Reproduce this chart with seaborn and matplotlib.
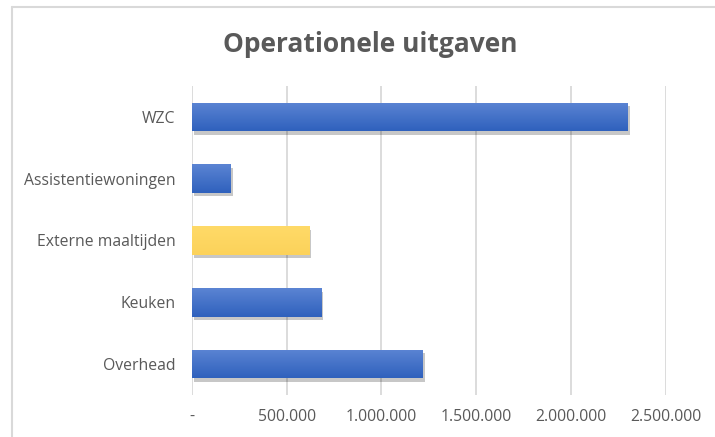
import matplotlib
matplotlib.use("Agg")
import matplotlib.pyplot as plt
import matplotlib.patheffects as pe
from matplotlib.lines import Line2D
from matplotlib.colors import LinearSegmentedColormap
import numpy as np
import seaborn as sns
import pandas as pd

categories = ["WZC", "Assistentiewoningen", "Externe maaltijden", "Keuken", "Overhead"]
values = [2300000, 205000, 618000, 682000, 1218000]
bar_colors = ["#3D6CC8", "#3D6CC8", "#FFD560", "#3D6CC8", "#3D6CC8"]
xticks = [0, 500000, 1000000, 1500000, 2000000, 2500000]
xtick_labels = ["-", "500.000", "1.000.000", "1.500.000", "2.000.000", "2.500.000"]

sns.set_style("white")
plt.rcParams["font.family"] = ["Open Sans", "DejaVu Sans"]

W, H = 715, 437
fig = plt.figure(figsize=(W / 100, H / 100), dpi=100)
ax = fig.add_axes([192 / W, 1 - 395 / H, (665.7 - 192) / W, (395 - 86) / H])

df = pd.DataFrame({"cat": categories, "val": values})
sns.barplot(data=df, x="val", y="cat", hue="cat", palette=bar_colors, saturation=1,
            legend=False, width=0.46, ax=ax, zorder=3, linewidth=0)

blue_grad = LinearSegmentedColormap.from_list("b", ["#5B84D3", "#2F61BD"])
yellow_grad = LinearSegmentedColormap.from_list("y", ["#FFDA68", "#FCD25A"])
grad = np.linspace(0, 1, 64).reshape(-1, 1)
for p, c in zip(ax.patches, bar_colors):
    p.set_path_effects([pe.SimplePatchShadow(offset=(1.5, -2.5), shadow_rgbFace="#000000", alpha=0.22),
                        pe.Normal()])
    x0, y0 = p.get_x(), p.get_y()
    w, h = p.get_width(), p.get_height()
    cmap = yellow_grad if c == "#FFD560" else blue_grad
    im = ax.imshow(grad, cmap=cmap, aspect="auto", extent=(x0, x0 + w, y0 + h, y0),
                   origin="upper", zorder=3.5, interpolation="bilinear")
    im.set_clip_path(p)

ax.set_xlim(0, 2500000)
ax.set_ylim(4.5, -0.5)
ax.set_xticks(xticks)
ax.set_xticklabels(xtick_labels)
ax.grid(axis="x", color="#D9D9D9", linewidth=1.3, zorder=0)
ax.grid(axis="y", visible=False)
for s in ax.spines.values():
    s.set_visible(False)
ax.set_xlabel("")
ax.set_ylabel("")
ax.tick_params(axis="both", length=0, colors="#595959", labelsize=11.3)
ax.tick_params(axis="x", pad=10)
ax.tick_params(axis="y", pad=12)

fig.text(370 / W, 1 - 45 / H, "Operationele uitgaven", ha="center", va="center",
         fontsize=19, fontweight="bold", color="#595959")

# chart frame (top and left edge visible)
fig.add_artist(Line2D([12 / W, 1], [1 - 7 / H, 1 - 7 / H], color="#D9D9D9", linewidth=1.5,
                      transform=fig.transFigure))
fig.add_artist(Line2D([12 / W, 12 / W], [0, 1 - 7 / H], color="#D9D9D9", linewidth=1.5,
                      transform=fig.transFigure))

fig.savefig("out.png", dpi=100)
